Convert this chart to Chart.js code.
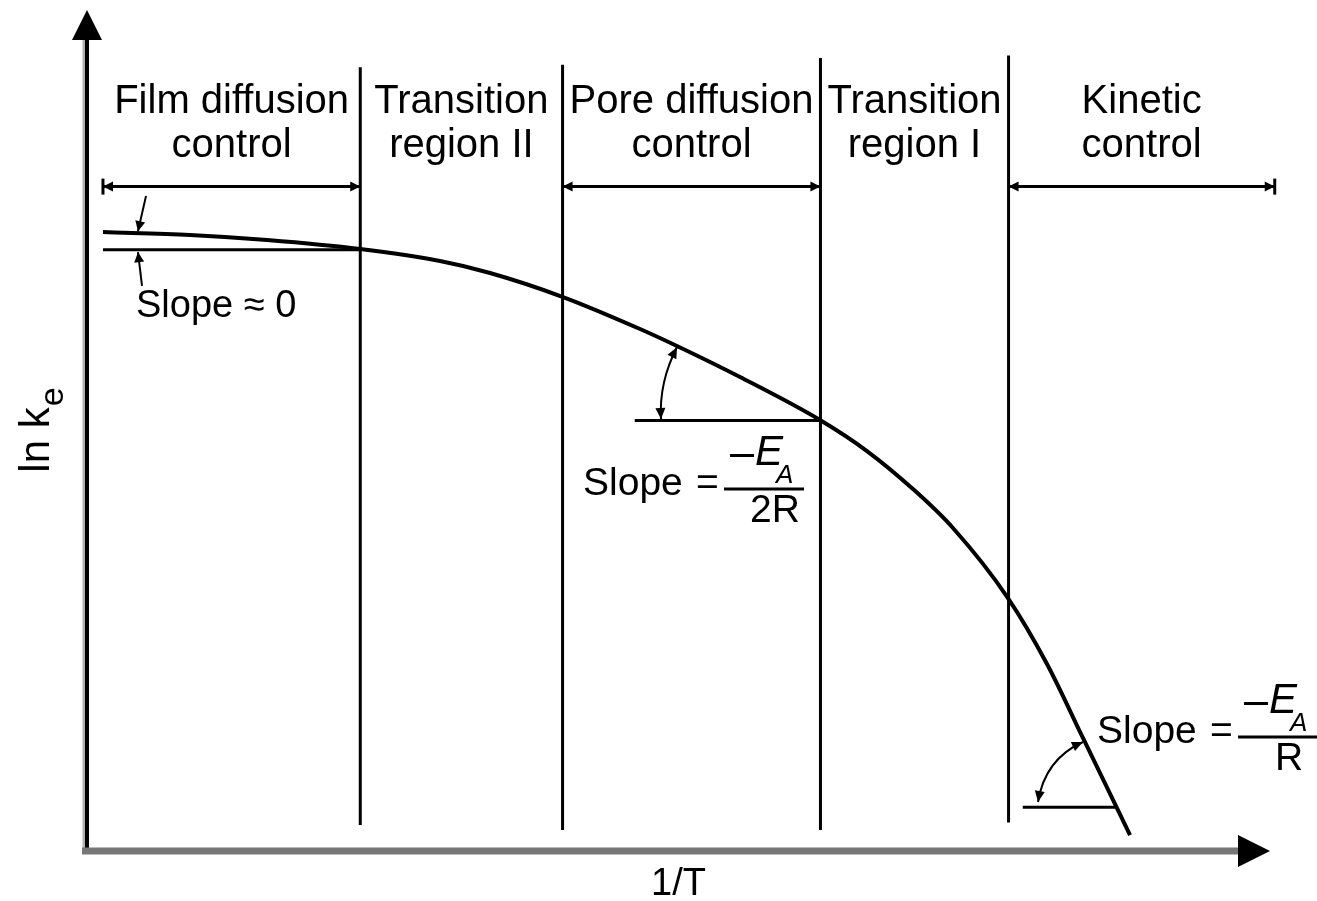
<!DOCTYPE html>
<html>
<head>
<meta charset="utf-8">
<title>ln k vs 1/T</title>
<script src="https://cdn.jsdelivr.net/npm/chart.js@4.4.0/dist/chart.umd.min.js"></script>
<style>
html, body { margin: 0; padding: 0; background: #fff; }
#wrap { width: 1317px; height: 901px; position: relative; }
</style>
</head>
<body>
<div id="wrap"><canvas id="rateChart"></canvas></div>
<script>

// ======================
// DATA  (x = 1/T, y = ln k, arbitrary units 0..100)
// ======================

const curveX = [1.35, 8.71, 15.22, 23.08, 29.84, 34.07, 40.24, 46.75, 49.87, 55.2, 61.96, 65.93, 69.82, 73.2, 77.85, 81.15, 84.19, 88.17];
const curveY = [73.6, 73.25, 72.65, 71.58, 70.15, 68.73, 65.87, 62.07, 60.05, 56.36, 51.25, 47.56, 43.04, 38.41, 30.08, 22.24, 13.44, 1.9];

// region edges along 1/T and the names written above each region
const regionEdges = [1.35, 23.1, 40.2, 62.0, 77.9, 100.4];
const regionNames = [
    ["Film diffusion", "control"],
    ["Transition", "region II"],
    ["Pore diffusion", "control"],
    ["Transition", "region I"],
    ["Kinetic", "control"]
];

// vertical boundary lines (inner edges only)
const boundaryTop = [93.2, 93.5, 94.3, 94.6];
const boundaryBottom = [3.1, 2.5, 2.5, 3.4];

// regions that get a |<---->| span arrow
const spanRegions = [0, 2, 4];
const spanY = 79;

// horizontal reference lines used to show the slope
const refLineX0 = [1.35, 46.3, 79.1];
const refLineX1 = [23.1, 62.0, 87.1];
const refLineY = [71.5, 51.2, 5.2];

const xTitle = "1/T";
const yTitle = "ln k";
const yTitleSub = "e";

// ======================
// HELPERS
// ======================

const FONT = '"Liberation Sans", Arial, sans-serif';

function line(ctx, x1, y1, x2, y2){
    ctx.beginPath();
    ctx.moveTo(x1, y1);
    ctx.lineTo(x2, y2);
    ctx.stroke();
}

function arrowHead(ctx, tipX, tipY, fromX, fromY, len, half){
    const a = Math.atan2(tipY - fromY, tipX - fromX);
    const bx = tipX - len * Math.cos(a);
    const by = tipY - len * Math.sin(a);
    ctx.beginPath();
    ctx.moveTo(tipX, tipY);
    ctx.lineTo(bx + half * Math.sin(a), by - half * Math.cos(a));
    ctx.lineTo(bx - half * Math.sin(a), by + half * Math.cos(a));
    ctx.closePath();
    ctx.fill();
}

// quadratic arc with arrowheads on both ends
function doubleArc(ctx, p0, c, p1){
    ctx.lineWidth = 2;
    ctx.beginPath();
    ctx.moveTo(p0[0], p0[1]);
    ctx.quadraticCurveTo(c[0], c[1], p1[0], p1[1]);
    ctx.stroke();
    arrowHead(ctx, p0[0], p0[1], c[0], c[1], 11, 5);
    arrowHead(ctx, p1[0], p1[1], c[0], c[1], 11, 5);
}

// "Slope = -E_A / denom"
function slopeFraction(ctx, x, y, denom){
    ctx.textAlign = "left";
    ctx.font = "39px " + FONT;
    ctx.fillText("Slope", x, y);
    ctx.fillText("=", x + 113, y);

    ctx.lineWidth = 3;
    line(ctx, x + 141, y - 6, x + 221, y - 6);

    ctx.fillRect(x + 147, y - 41, 24, 3);
    ctx.font = "italic 42px " + FONT;
    ctx.fillText("E", x + 172, y - 30);
    ctx.font = "italic 26px " + FONT;
    ctx.fillText("A", x + 193, y - 12);

    ctx.font = "39px " + FONT;
    ctx.textAlign = "center";
    ctx.fillText(denom, x + 192, y + 27);
}

// ======================
// DIAGRAM PLUGIN
// ======================

const diagramPlugin = {
    id: "diagram",

    beforeDatasetsDraw(chart){
        const ctx = chart.ctx;
        const xs = chart.scales.x;
        const ys = chart.scales.y;
        const x0 = xs.getPixelForValue(0);
        const y0 = ys.getPixelForValue(0);
        const xEnd = xs.getPixelForValue(100);
        const yEnd = ys.getPixelForValue(100);

        ctx.save();
        ctx.fillStyle = "#000";

        // y axis
        ctx.strokeStyle = "#b0b0b0";
        ctx.lineWidth = 3;
        line(ctx, x0 - 3, y0, x0 - 3, yEnd + 28);
        ctx.strokeStyle = "#000";
        ctx.lineWidth = 4;
        line(ctx, x0, y0, x0, yEnd + 28);
        arrowHead(ctx, x0, yEnd, x0, yEnd + 10, 30, 15);

        // x axis
        ctx.strokeStyle = "#777";
        ctx.lineWidth = 7;
        line(ctx, x0 - 5, y0, xEnd - 28, y0);
        arrowHead(ctx, xEnd, y0, xEnd - 10, y0, 32, 16);

        ctx.restore();
    },

    afterDatasetsDraw(chart){
        const ctx = chart.ctx;
        const xs = chart.scales.x;
        const ys = chart.scales.y;
        const px = v => xs.getPixelForValue(v);
        const py = v => ys.getPixelForValue(v);

        ctx.save();
        ctx.fillStyle = "#000";
        ctx.strokeStyle = "#000";
        ctx.textBaseline = "alphabetic";

        // region names
        ctx.font = "40px " + FONT;
        ctx.textAlign = "center";
        regionNames.forEach((rows, i) => {
            const cx = px((regionEdges[i] + regionEdges[i + 1]) / 2);
            ctx.fillText(rows[0], cx, py(87.75));
            ctx.fillText(rows[1], cx, py(82.5));
        });

        // span arrows |<---->|
        ctx.lineWidth = 3;
        spanRegions.forEach(r => {
            const a = px(regionEdges[r]);
            const b = px(regionEdges[r + 1]);
            const y = py(spanY);
            line(ctx, a, y, b, y);
            arrowHead(ctx, a, y, a + 10, y, 10, 5);
            arrowHead(ctx, b, y, b - 10, y, 10, 5);
            if (r === 0) line(ctx, a, y - 8, a, y + 8);
            if (r + 1 === regionEdges.length - 1) line(ctx, b, y - 8, b, y + 8);
        });

        // film diffusion: two small pointers to the nearly flat lines
        ctx.lineWidth = 2;
        line(ctx, px(4.99), py(77.9), px(4.31), py(73.7));
        arrowHead(ctx, px(4.31), py(73.7), px(4.99), py(77.9), 10, 5);
        line(ctx, px(4.65), py(67.2), px(4.31), py(71.2));
        arrowHead(ctx, px(4.31), py(71.2), px(4.65), py(67.2), 10, 5);

        ctx.font = "38px " + FONT;
        ctx.textAlign = "left";
        ctx.fillText("Slope \u2248 0", px(4.14), py(63.5));

        // pore diffusion angle
        doubleArc(ctx,
            [px(49.87), py(59.9)],
            [px(48.35), py(55.77)],
            [px(48.52), py(51.37)]);
        slopeFraction(ctx, px(41.93), py(42.33), "2R");

        // kinetic angle
        doubleArc(ctx,
            [px(84.19), py(12.96)],
            [px(80.98), py(10.94)],
            [px(80.39), py(5.83)]);
        slopeFraction(ctx, px(85.38), py(12.84), "R");

        // axis titles
        ctx.font = "38px " + FONT;
        ctx.textAlign = "center";
        ctx.fillText(xTitle, px(50), py(0) + 44);

        ctx.translate(px(0) - 38, py(50));
        ctx.rotate(-Math.PI / 2);
        ctx.font = "42px " + FONT;
        const w1 = ctx.measureText(yTitle).width;
        ctx.font = "34px " + FONT;
        const w2 = ctx.measureText(yTitleSub).width;
        const start = -(w1 + w2) / 2;
        ctx.textAlign = "left";
        ctx.font = "42px " + FONT;
        ctx.fillText(yTitle, start, 0);
        ctx.font = "34px " + FONT;
        ctx.fillText(yTitleSub, start + w1 + 1, 14);

        ctx.restore();
    }
};

// ======================
// DATASETS
// ======================

const lineStyle = {
    showLine: true,
    pointRadius: 0,
    fill: false,
    clip: false,
    borderColor: "#000",
    borderWidth: 3
};

const datasets = [];

datasets.push({
    ...lineStyle,
    data: curveX.map((x, i) => ({ x: x, y: curveY[i] })),
    borderWidth: 4,
    cubicInterpolationMode: "monotone"
});

regionEdges.slice(1, -1).forEach((x, i) => {
    datasets.push({
        ...lineStyle,
        data: [{ x: x, y: boundaryTop[i] }, { x: x, y: boundaryBottom[i] }]
    });
});

refLineY.forEach((y, i) => {
    datasets.push({
        ...lineStyle,
        data: [{ x: refLineX0[i], y: y }, { x: refLineX1[i], y: y }]
    });
});

// ======================
// CHART
// ======================

new Chart(document.getElementById("rateChart"), {
    type: "scatter",
    data: { datasets: datasets },
    options: {
        responsive: true,
        maintainAspectRatio: false,
        animation: false,
        events: [],
        layout: { padding: { left: 87, right: 47, top: 10, bottom: 50 } },
        plugins: {
            legend: { display: false },
            tooltip: { enabled: false }
        },
        scales: {
            x: { type: "linear", min: 0, max: 100, display: false },
            y: { type: "linear", min: 0, max: 100, display: false }
        }
    },
    plugins: [diagramPlugin]
});

</script>
</body>
</html>
